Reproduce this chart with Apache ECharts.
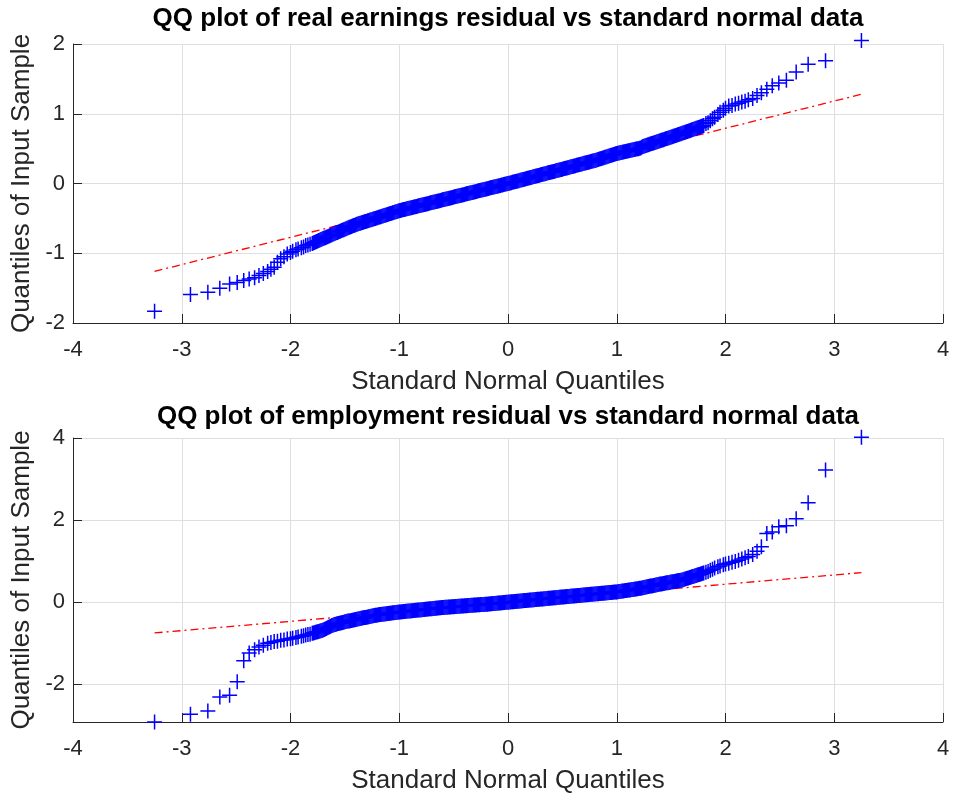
<!DOCTYPE html>
<html>
<head>
<meta charset="utf-8">
<script src="https://cdn.jsdelivr.net/npm/echarts/dist/echarts.min.js"></script>
<style>html,body{margin:0;padding:0;background:#fff;}#chart{width:953px;height:799px;}</style>
</head>
<body>
<div id="chart"></div>
<script>
// Standard normal quantiles (x positions)
const normalQuantiles = [
-3.25,-2.92,-2.76,-2.65,-2.56,-2.49,-2.43,-2.38,-2.33,-2.29,
-2.25,-2.21,-2.18,-2.15,-2.12,-2.09,-2.06,-2.03,-2.00,-1.98,
-1.95,-1.93,-1.90,-1.88,-1.86,-1.84,-1.82,
-1.80,-1.79,-1.78,-1.77,-1.76,-1.75,-1.74,-1.73,-1.72,-1.71,-1.70,-1.69,-1.68,-1.67,-1.66,-1.65,-1.64,-1.63,-1.62,-1.61,
-1.60,-1.59,-1.58,-1.57,-1.56,-1.55,-1.54,-1.53,-1.52,-1.51,-1.50,-1.49,-1.48,-1.47,-1.46,-1.45,-1.44,-1.43,-1.42,-1.41,
-1.40,-1.39,-1.38,-1.37,-1.36,-1.35,-1.34,-1.33,-1.32,-1.31,-1.30,-1.29,-1.28,-1.27,-1.26,-1.25,-1.24,-1.23,-1.22,-1.21,
-1.20,-1.19,-1.18,-1.17,-1.16,-1.15,-1.14,-1.13,-1.12,-1.11,-1.10,-1.09,-1.08,-1.07,-1.06,-1.05,-1.04,-1.03,-1.02,-1.01,
-1.00,-0.99,-0.98,-0.97,-0.96,-0.95,-0.94,-0.93,-0.92,-0.91,-0.90,-0.89,-0.88,-0.87,-0.86,-0.85,-0.84,-0.83,-0.82,-0.81,
-0.80,-0.79,-0.78,-0.77,-0.76,-0.75,-0.74,-0.73,-0.72,-0.71,-0.70,-0.69,-0.68,-0.67,-0.66,-0.65,-0.64,-0.63,-0.62,-0.61,
-0.60,-0.59,-0.58,-0.57,-0.56,-0.55,-0.54,-0.53,-0.52,-0.51,-0.50,-0.49,-0.48,-0.47,-0.46,-0.45,-0.44,-0.43,-0.42,-0.41,
-0.40,-0.39,-0.38,-0.37,-0.36,-0.35,-0.34,-0.33,-0.32,-0.31,-0.30,-0.29,-0.28,-0.27,-0.26,-0.25,-0.24,-0.23,-0.22,-0.21,
-0.20,-0.19,-0.18,-0.17,-0.16,-0.15,-0.14,-0.13,-0.12,-0.11,-0.10,-0.09,-0.08,-0.07,-0.06,-0.05,-0.04,-0.03,-0.02,-0.01,
0.00,0.01,0.02,0.03,0.04,0.05,0.06,0.07,0.08,0.09,0.10,0.11,0.12,0.13,0.14,0.15,0.16,0.17,0.18,0.19,
0.20,0.21,0.22,0.23,0.24,0.25,0.26,0.27,0.28,0.29,0.30,0.31,0.32,0.33,0.34,0.35,0.36,0.37,0.38,0.39,
0.40,0.41,0.42,0.43,0.44,0.45,0.46,0.47,0.48,0.49,0.50,0.51,0.52,0.53,0.54,0.55,0.56,0.57,0.58,0.59,
0.60,0.61,0.62,0.63,0.64,0.65,0.66,0.67,0.68,0.69,0.70,0.71,0.72,0.73,0.74,0.75,0.76,0.77,0.78,0.79,
0.80,0.81,0.82,0.83,0.84,0.85,0.86,0.87,0.88,0.89,0.90,0.91,0.92,0.93,0.94,0.95,0.96,0.97,0.98,0.99,
1.00,1.01,1.02,1.03,1.04,1.05,1.06,1.07,1.08,1.09,1.10,1.11,1.12,1.13,1.14,1.15,1.16,1.17,1.18,1.19,
1.20,1.21,1.22,1.23,1.24,1.25,1.26,1.27,1.28,1.29,1.30,1.31,1.32,1.33,1.34,1.35,1.36,1.37,1.38,1.39,
1.40,1.41,1.42,1.43,1.44,1.45,1.46,1.47,1.48,1.49,1.50,1.51,1.52,1.53,1.54,1.55,1.56,1.57,1.58,1.59,
1.60,1.61,1.62,1.63,1.64,1.65,1.66,1.67,1.68,1.69,1.70,1.71,1.72,1.73,1.74,1.75,1.76,1.77,1.78,1.79,
1.80,
1.82,1.84,1.86,1.88,1.90,1.93,1.95,1.98,2.00,2.03,
2.06,2.09,2.12,2.15,2.18,2.21,2.25,2.29,2.33,2.38,
2.43,2.49,2.56,2.65,2.76,2.92,3.25
];

// Sorted real earnings residuals (top panel)
const earningsResidual = [
-1.83,-1.59,-1.56,-1.50,-1.44,-1.42,-1.39,-1.37,-1.35,-1.32,
-1.29,-1.26,-1.23,-1.20,-1.13,-1.08,-1.05,-1.01,-0.99,-0.97,
-0.95,-0.94,-0.92,-0.91,-0.89,-0.88,-0.87,
-0.860,-0.853,-0.846,-0.839,-0.832,-0.825,-0.818,-0.811,-0.804,-0.797,-0.790,-0.783,-0.776,-0.769,-0.762,-0.755,-0.748,-0.741,-0.734,-0.727,
-0.720,-0.714,-0.707,-0.701,-0.694,-0.688,-0.681,-0.675,-0.668,-0.662,-0.655,-0.649,-0.642,-0.636,-0.629,-0.623,-0.616,-0.610,-0.603,-0.597,
-0.590,-0.585,-0.580,-0.575,-0.570,-0.565,-0.560,-0.555,-0.550,-0.545,-0.540,-0.535,-0.530,-0.525,-0.520,-0.515,-0.510,-0.505,-0.500,-0.495,
-0.490,-0.485,-0.480,-0.475,-0.470,-0.465,-0.460,-0.455,-0.450,-0.445,-0.440,-0.435,-0.430,-0.425,-0.420,-0.415,-0.410,-0.405,-0.400,-0.395,
-0.390,-0.386,-0.382,-0.378,-0.374,-0.371,-0.367,-0.363,-0.359,-0.355,-0.351,-0.347,-0.343,-0.339,-0.335,-0.332,-0.328,-0.324,-0.320,-0.316,
-0.312,-0.308,-0.304,-0.300,-0.296,-0.293,-0.289,-0.285,-0.281,-0.277,-0.273,-0.269,-0.265,-0.261,-0.257,-0.254,-0.250,-0.246,-0.242,-0.238,
-0.234,-0.230,-0.226,-0.222,-0.218,-0.215,-0.211,-0.207,-0.203,-0.199,-0.195,-0.191,-0.187,-0.183,-0.179,-0.176,-0.172,-0.168,-0.164,-0.160,
-0.156,-0.152,-0.148,-0.144,-0.140,-0.137,-0.133,-0.129,-0.125,-0.121,-0.117,-0.113,-0.109,-0.105,-0.101,-0.098,-0.094,-0.090,-0.086,-0.082,
-0.078,-0.074,-0.070,-0.066,-0.062,-0.059,-0.055,-0.051,-0.047,-0.043,-0.039,-0.035,-0.031,-0.027,-0.023,-0.020,-0.016,-0.012,-0.008,-0.004,
0.000,0.004,0.008,0.012,0.017,0.021,0.025,0.029,0.033,0.037,0.041,0.045,0.050,0.054,0.058,0.062,0.066,0.070,0.074,0.078,
0.083,0.087,0.091,0.095,0.099,0.103,0.107,0.111,0.116,0.120,0.124,0.128,0.132,0.136,0.140,0.144,0.149,0.153,0.157,0.161,
0.165,0.169,0.173,0.177,0.182,0.186,0.190,0.194,0.198,0.202,0.206,0.210,0.215,0.219,0.223,0.227,0.231,0.235,0.239,0.243,
0.248,0.252,0.256,0.260,0.264,0.268,0.272,0.276,0.281,0.285,0.289,0.293,0.297,0.301,0.305,0.309,0.314,0.318,0.322,0.326,
0.330,0.335,0.340,0.345,0.350,0.355,0.360,0.365,0.370,0.375,0.380,0.385,0.390,0.395,0.400,0.405,0.410,0.415,0.420,0.425,
0.430,0.434,0.437,0.441,0.444,0.448,0.451,0.455,0.458,0.462,0.465,0.469,0.472,0.476,0.479,0.483,0.486,0.490,0.493,0.497,
0.500,0.505,0.510,0.520,0.530,0.535,0.540,0.545,0.551,0.556,0.561,0.566,0.572,0.577,0.582,0.587,0.593,0.598,0.603,0.608,
0.614,0.619,0.624,0.629,0.635,0.640,0.645,0.650,0.656,0.661,0.666,0.671,0.677,0.682,0.687,0.692,0.698,0.703,0.708,0.713,
0.720,0.725,0.731,0.736,0.742,0.747,0.753,0.758,0.764,0.769,0.775,0.780,0.786,0.791,0.797,0.802,0.808,0.813,0.819,0.824,
0.830,
0.86,0.87,0.90,0.93,0.95,0.99,1.02,1.05,1.08,1.11,
1.12,1.14,1.15,1.17,1.18,1.20,1.22,1.26,1.30,1.35,
1.40,1.44,1.48,1.60,1.71,1.76,2.05
];

// Sorted employment residuals (bottom panel)
const employmentResidual = [
-2.92,-2.73,-2.65,-2.31,-2.27,-1.94,-1.43,-1.24,-1.16,-1.09,
-1.05,-1.00,-0.98,-0.96,-0.95,-0.93,-0.92,-0.90,-0.89,-0.88,
-0.86,-0.85,-0.83,-0.82,-0.80,-0.79,-0.78,
-0.760,-0.752,-0.744,-0.736,-0.728,-0.720,-0.712,-0.704,-0.696,-0.688,-0.680,-0.666,-0.652,-0.639,-0.625,-0.611,-0.597,-0.584,-0.570,-0.560,
-0.550,-0.543,-0.536,-0.529,-0.522,-0.515,-0.508,-0.501,-0.494,-0.487,-0.480,-0.474,-0.468,-0.462,-0.456,-0.450,-0.444,-0.438,-0.432,-0.426,
-0.420,-0.415,-0.409,-0.404,-0.398,-0.393,-0.387,-0.382,-0.376,-0.371,-0.365,-0.360,-0.354,-0.349,-0.343,-0.338,-0.332,-0.327,-0.321,-0.316,
-0.310,-0.307,-0.303,-0.300,-0.296,-0.293,-0.289,-0.286,-0.282,-0.279,-0.275,-0.272,-0.268,-0.265,-0.261,-0.258,-0.254,-0.251,-0.247,-0.244,
-0.240,-0.237,-0.235,-0.232,-0.229,-0.226,-0.224,-0.221,-0.218,-0.215,-0.213,-0.210,-0.207,-0.204,-0.202,-0.199,-0.196,-0.193,-0.191,-0.188,
-0.185,-0.182,-0.180,-0.177,-0.174,-0.171,-0.169,-0.166,-0.163,-0.160,-0.158,-0.155,-0.152,-0.149,-0.147,-0.144,-0.141,-0.138,-0.136,-0.133,
-0.130,-0.128,-0.126,-0.124,-0.122,-0.120,-0.118,-0.116,-0.114,-0.112,-0.110,-0.108,-0.106,-0.104,-0.102,-0.100,-0.098,-0.096,-0.094,-0.092,
-0.090,-0.088,-0.086,-0.084,-0.082,-0.080,-0.078,-0.076,-0.074,-0.072,-0.070,-0.068,-0.066,-0.064,-0.062,-0.060,-0.058,-0.056,-0.054,-0.052,
-0.050,-0.048,-0.045,-0.043,-0.040,-0.038,-0.035,-0.033,-0.030,-0.028,-0.025,-0.023,-0.020,-0.018,-0.015,-0.013,-0.010,-0.008,-0.005,-0.003,
0.000,0.003,0.005,0.008,0.010,0.013,0.015,0.018,0.020,0.023,0.025,0.028,0.030,0.033,0.035,0.038,0.040,0.043,0.045,0.048,
0.050,0.053,0.055,0.058,0.060,0.063,0.065,0.068,0.070,0.073,0.075,0.078,0.080,0.083,0.085,0.088,0.090,0.093,0.095,0.098,
0.100,0.103,0.105,0.108,0.110,0.113,0.115,0.118,0.120,0.123,0.125,0.128,0.130,0.133,0.135,0.138,0.140,0.143,0.145,0.148,
0.150,0.153,0.155,0.158,0.160,0.163,0.165,0.168,0.170,0.173,0.175,0.178,0.180,0.183,0.185,0.188,0.190,0.193,0.195,0.198,
0.200,0.203,0.205,0.208,0.210,0.213,0.215,0.218,0.220,0.223,0.225,0.228,0.230,0.233,0.235,0.238,0.240,0.243,0.245,0.248,
0.250,0.254,0.258,0.262,0.266,0.270,0.274,0.278,0.282,0.286,0.290,0.294,0.298,0.302,0.306,0.310,0.314,0.318,0.322,0.326,
0.330,0.336,0.341,0.347,0.352,0.358,0.363,0.369,0.374,0.380,0.385,0.391,0.396,0.402,0.407,0.413,0.418,0.424,0.429,0.435,
0.440,0.445,0.450,0.455,0.460,0.465,0.470,0.475,0.480,0.485,0.490,0.495,0.500,0.505,0.510,0.515,0.520,0.525,0.530,0.535,
0.540,0.549,0.557,0.566,0.574,0.583,0.591,0.600,0.608,0.617,0.625,0.634,0.642,0.651,0.659,0.668,0.676,0.685,0.693,0.702,
0.710,
0.73,0.75,0.78,0.80,0.83,0.86,0.88,0.91,0.93,0.95,
0.97,0.99,1.02,1.05,1.08,1.11,1.16,1.24,1.35,1.67,
1.71,1.84,1.86,2.03,2.42,3.22,4.02
];

// Reference lines (through the quartiles)
const refLineX = [-3.25, 3.25];
const earningsRefLineY = [-1.26, 1.28];
const employmentRefLineY = [-0.75, 0.72];

const titles = [
  'QQ plot of real earnings residual vs standard normal data',
  'QQ plot of employment residual vs standard normal data'
];
const xLabel = 'Standard Normal Quantiles';
const yLabel = 'Quantiles of Input Sample';

const FONT = '"Liberation Sans", Arial, Helvetica, sans-serif';
const AX = '#262626';
const GRIDC = '#dfdfdf';
const crossSymbol = 'path://M4.5,0h1v10h-1zM0,4.5h10v1h-10z';

function xAxisCfg(gi) {
  return {
    type: 'value', gridIndex: gi, min: -4, max: 4, interval: 1,
    name: xLabel, nameLocation: 'middle', nameGap: 46,
    nameTextStyle: { fontSize: 26, color: AX, fontFamily: FONT },
    axisLine: { onZero: false, lineStyle: { color: AX, width: 1 } },
    axisTick: { inside: true, length: 9, lineStyle: { color: AX } },
    axisLabel: { fontSize: 22, color: AX, margin: 16, fontFamily: FONT },
    splitLine: { show: true, lineStyle: { color: GRIDC, width: 1 } }
  };
}
function yAxisCfg(gi, extra) {
  return Object.assign({
    type: 'value', gridIndex: gi,
    name: yLabel, nameLocation: 'middle', nameGap: 36,
    nameTextStyle: { fontSize: 26, color: AX, fontFamily: FONT },
    axisLine: { show: true, onZero: false, lineStyle: { color: AX, width: 1 } },
    axisTick: { show: true, inside: true, length: 9, lineStyle: { color: AX } },
    splitLine: { show: true, lineStyle: { color: GRIDC, width: 1 } }
  }, extra);
}

const chart = echarts.init(document.getElementById('chart'), null, { renderer: 'canvas' });
chart.setOption({
  animation: false,
  backgroundColor: '#fff',
  textStyle: { fontFamily: FONT },
  title: [
    { text: titles[0], left: 508, top: 6, textAlign: 'center', padding: 0,
      textStyle: { fontSize: 26, fontWeight: 'bold', color: '#000', fontFamily: FONT } },
    { text: titles[1], left: 508, top: 404, textAlign: 'center', padding: 0,
      textStyle: { fontSize: 26, fontWeight: 'bold', color: '#000', fontFamily: FONT } }
  ],
  grid: [
    { left: 73, top: 44, width: 870, height: 279, containLabel: false },
    { left: 73, top: 438, width: 870, height: 284, containLabel: false }
  ],
  xAxis: [xAxisCfg(0), xAxisCfg(1)],
  yAxis: [
    yAxisCfg(0, { min: -2, max: 2, interval: 1,
      axisLabel: { fontSize: 22, color: AX, margin: 8, fontFamily: FONT } }),
    yAxisCfg(1, { min: -2.92, max: 4, splitNumber: 3,
      axisLabel: { fontSize: 22, color: AX, margin: 8, fontFamily: FONT, showMinLabel: false } })
  ],
  series: [
    { type: 'line', xAxisIndex: 0, yAxisIndex: 0, z: 2, silent: true,
      data: refLineX.map((x, i) => [x, earningsRefLineY[i]]),
      symbol: 'none', lineStyle: { color: '#ff0000', width: 1.3, type: [8, 4, 2, 4] } },
    { type: 'scatter', xAxisIndex: 0, yAxisIndex: 0, z: 3, silent: true, clip: false,
      data: normalQuantiles.map((x, i) => [x, earningsResidual[i]]),
      symbol: crossSymbol, symbolSize: 15, itemStyle: { color: '#0000ff', opacity: 1 } },
    { type: 'line', xAxisIndex: 1, yAxisIndex: 1, z: 2, silent: true,
      data: refLineX.map((x, i) => [x, employmentRefLineY[i]]),
      symbol: 'none', lineStyle: { color: '#ff0000', width: 1.3, type: [8, 4, 2, 4] } },
    { type: 'scatter', xAxisIndex: 1, yAxisIndex: 1, z: 3, silent: true, clip: false,
      data: normalQuantiles.map((x, i) => [x, employmentResidual[i]]),
      symbol: crossSymbol, symbolSize: 15, itemStyle: { color: '#0000ff', opacity: 1 } }
  ]
});
</script>
</body>
</html>
